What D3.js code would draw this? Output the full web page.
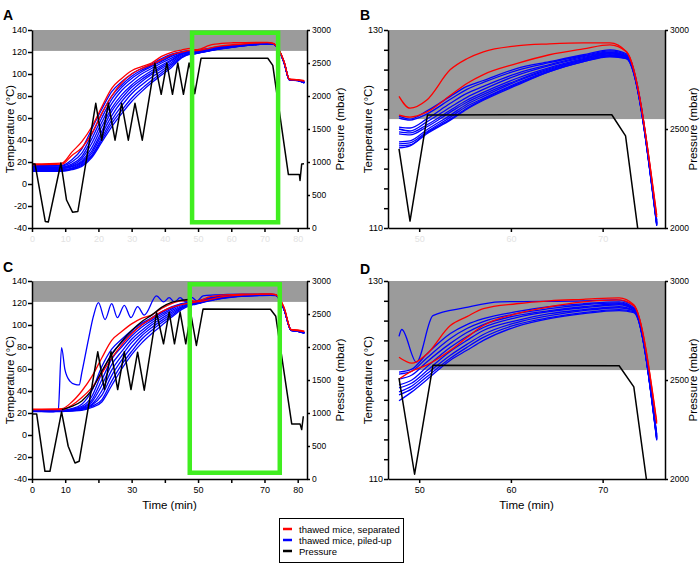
<!DOCTYPE html>
<html>
<head>
<meta charset="utf-8">
<style>
  body { margin: 0; background: #fff; }
  svg text { font-family: "Liberation Sans", Arial, Helvetica, sans-serif; }
</style>
</head>
<body>
<svg id="chart" width="700" height="564"></svg>

<script src="https://d3js.org/d3.v7.min.js"></script>
<script>
// sterilisation threshold (grey band)
var tempLimit = 121;

// ---- run 1 (panels A and B) ----
var times1 = [0, 9, 12, 15, 18, 21, 24, 27, 30, 33, 36, 39, 42, 45, 47.8, 49, 50.8, 53.4, 55.2, 57, 60.6, 64.2, 67.9, 70.8, 72.6, 75.9, 77.5, 80, 82];

var red1 = [
  [18.2, 19, 29, 38.5, 52, 70, 87, 96, 103, 106.7, 110, 116, 119.7, 121.8, 123.3, 122.1, 122.9, 126.0, 127.1, 127.8, 128.4, 128.6, 128.7, 128.7, 127.8, 111.3, 95, 94.5, 93.5],
  [17.5, 18, 26, 33, 46, 64, 80, 92, 100, 105, 108.5, 113, 117.5, 119.8, 121.4, 121.2, 121.7, 123.4, 124.6, 125.5, 126.6, 127.5, 128.1, 128.5, 127.8, 111.1, 95.5, 94.8, 94]
];

var blue1 = [
  [17, 17, 22, 32, 50, 68, 84, 93, 100, 105, 109, 114, 118, 120.3, 121.3, 121.0, 121.8, 123.3, 124.3, 124.9, 126.1, 126.8, 127.5, 128.0, 127.6, 110.8, 95.2, 94.6, 92.8],
  [16, 16.5, 20, 28, 45, 64, 80, 90, 98, 103.5, 108, 112.5, 117, 119.8, 121.1, 120.9, 121.5, 123.0, 124.0, 124.7, 125.9, 126.7, 127.4, 127.9, 127.5, 110.7, 95.0, 94.5, 92.5],
  [15.5, 15.5, 18, 25, 41, 60, 77, 88, 96, 102, 107, 111.5, 116, 119.2, 120.2, 120.1, 121.0, 122.6, 123.6, 124.3, 125.6, 126.5, 127.3, 127.8, 127.4, 110.6, 94.9, 94.4, 92.2],
  [15, 15, 17, 23, 37, 56, 73, 85, 93, 100, 105, 110, 114.5, 118.5, 120.0, 119.8, 120.7, 122.2, 123.2, 124.0, 125.4, 126.4, 127.2, 127.7, 127.4, 110.5, 94.8, 94.3, 92.0],
  [14, 14.5, 16, 21, 33, 52, 69, 81, 90, 97, 103, 108, 113, 118, 119.7, 119.6, 120.4, 121.9, 122.9, 123.7, 125.1, 126.2, 127.1, 127.7, 127.3, 110.5, 94.8, 94.3, 92.4],
  [13.5, 14, 15.5, 20, 30, 48, 66, 78, 88, 95, 101, 106.5, 112, 117.5, 119.5, 119.4, 120.2, 121.7, 122.7, 123.5, 124.9, 126.1, 127.0, 127.6, 127.3, 110.4, 94.7, 94.2, 92.6],
  [13, 13, 14.5, 19, 28, 45, 62, 75, 85, 93, 99.5, 105, 110.5, 116.5, 118.7, 118.8, 119.9, 121.4, 122.5, 123.3, 124.8, 126.0, 127.0, 127.5, 127.2, 110.4, 94.7, 94.2, 92.3],
  [12.5, 12.5, 14, 18, 26, 42, 58, 71, 82, 90, 97, 103, 109, 115.5, 118.5, 118.6, 119.7, 121.2, 122.3, 123.1, 124.6, 125.9, 126.9, 127.4, 127.2, 110.3, 94.6, 94.1, 92.1],
  [12, 12, 13.5, 17, 25, 40, 55, 67, 78, 86.5, 94, 101, 107.5, 115, 118.3, 118.4, 119.6, 121.0, 122.1, 123.0, 124.5, 125.8, 126.8, 127.4, 127.1, 110.3, 94.6, 94.1, 92.0],
  [11.5, 11.5, 13, 16, 24, 38, 52, 64, 75, 84, 92, 99, 106, 114.5, 118.1, 118.3, 119.5, 120.9, 122.0, 122.9, 124.4, 125.8, 126.8, 127.3, 127.1, 110.2, 94.5, 94.0, 91.8]
];

var pressure1 = [[0,970],[0.9,970],[4.0,100],[4.9,90],[8.7,985],[10.4,424],[12.2,240],[13.8,250],[19.2,1890],[21,1330],[23,1890],[25,1330],[27,1890],[29,1330],[31,1890],[33.2,1330],[37,2495],[38.9,2025],[40.6,2500],[42.3,2025],[43.9,2500],[45.6,2025],[47.3,2500],[47.8,2400],[49,2035],[50.9,2571],[71,2572],[72.5,2465],[77.2,810],[80.5,810],[80.7,720],[81.2,970],[81.9,975]];

// ---- run 2 (panels C and D) ----
var times2 = [0, 9, 12, 15, 18, 21, 24, 27, 30, 33, 36, 39, 42, 45, 47.8, 49.2, 50.8, 53.4, 55.2, 57, 60.6, 64.2, 67.9, 71.8, 73.4, 75.9, 78, 80, 82];

var red2 = [
  [23.5, 24, 30, 40, 53, 70, 86, 94, 101, 106, 109, 115, 119.5, 122, 122.3, 121.7, 122.6, 125.5, 126.4, 127.2, 127.7, 128.0, 128.15, 128.3, 127.6, 115.8, 96, 95.5, 94.5],
  [23, 23, 27, 34, 43, 56, 70, 82, 92, 100, 106, 112, 116, 118.5, 120.1, 120.9, 121.5, 123.0, 124.3, 125.5, 126.7, 127.4, 127.9, 128.1, 127.5, 115.6, 95.5, 95, 94]
];

var blue2 = [
  [22.5, 22.5, 24, 28, 40, 62, 78, 87, 95, 101.5, 106.5, 112, 116.5, 119.5, 120.8, 121.1, 122.6, 124.7, 125.6, 126.2, 126.9, 127.4, 127.7, 127.9, 127.3, 114.4, 95.6, 94.6, 93.2],
  [22.3, 22.3, 23.5, 26, 35, 56, 74, 84, 93, 100, 105.5, 111, 115.5, 119, 120.6, 120.9, 122.2, 124.2, 125.2, 125.9, 126.7, 127.2, 127.6, 127.8, 127.2, 114.3, 95.5, 94.5, 93.0],
  [22.2, 22.2, 23, 25, 32, 50, 69, 80, 90, 98, 104, 109.5, 114.5, 118.5, 120.1, 120.5, 121.8, 123.7, 124.8, 125.6, 126.5, 127.0, 127.4, 127.7, 127.2, 114.2, 95.4, 94.5, 92.8],
  [22, 22, 22.8, 24.5, 30, 45, 64, 76, 87, 95, 102, 108, 113, 117.5, 119.5, 120.0, 121.3, 123.3, 124.4, 125.3, 126.3, 126.9, 127.3, 127.6, 127.1, 114.2, 95.4, 94.4, 93.1],
  [21.8, 21.8, 22.5, 24, 28, 40, 59, 72, 84, 92.5, 100, 106, 111.5, 116.5, 119.2, 119.7, 120.9, 122.9, 124.0, 125.0, 126.0, 126.7, 127.1, 127.4, 127.0, 114.1, 95.3, 94.4, 92.9],
  [21.7, 21.7, 22.3, 23.5, 27, 36, 54, 68, 80, 90, 97.5, 104, 110, 115.5, 118.8, 119.4, 120.6, 122.5, 123.6, 124.6, 125.8, 126.5, 127.0, 127.3, 127.0, 114.0, 95.3, 94.3, 92.7],
  [21.5, 21.5, 22, 23, 26, 32, 49, 64, 76, 87, 95, 102, 108.5, 115, 118.5, 119.1, 120.3, 122.2, 123.3, 124.3, 125.6, 126.3, 126.8, 127.1, 126.9, 114.0, 95.2, 94.3, 92.5],
  [21.3, 21.3, 21.8, 22.5, 25, 30, 45, 60, 73, 83.5, 92, 99.5, 107, 114, 117.9, 118.8, 120.0, 122.0, 123.0, 124.0, 125.4, 126.2, 126.7, 127.0, 126.8, 113.9, 95.2, 94.2, 92.6]
];

// the one blue probe that followed the pressure pulses, as [time, temp]
var blueSpike2 = [[0,22.5],[6.4,21],[7.9,23],[8.9,79.4],[9.9,59.7],[11.4,49],[12.95,46],[14.2,45.5],[15,56.7],[17,87],[18.5,108],[20,120.3],[22,105],[24,119.4],[25.7,106.7],[27.8,117.9],[29.8,106.7],[31.8,116.7],[33.8,109],[37.5,126.4],[39.6,121],[41.3,124.8],[42.9,121],[44.6,124.8],[46.3,121.2],[47.8,124.4],[48.1,125.1],[49.7,121.8],[51.5,126.5],[55,127.3],[58.8,127.9],[67.9,128.0],[71.5,128.1],[73.4,127.5],[75.9,114.5],[78,95],[80,94.5],[82,93]];

// black probe trace in C, as [time, temp]
var black2 = [[9,23],[12,26],[15,31],[18,41],[21,58],[24,73],[27,85],[30,95],[33,103],[36,109],[39,116],[42,120.5],[45,122.5],[47,123.2]];

var pressure2 = [[0,986],[1.4,986],[3.9,116],[5.4,116],[8.9,1017],[10.9,496],[12.95,243],[14.2,268],[19.8,1927],[21.8,1356],[23.8,1927],[25.8,1356],[27.8,1927],[29.8,1356],[31.8,1922],[33.8,1346],[37.5,2519],[39.6,2049],[41.3,2529],[42.9,2049],[44.6,2529],[46.3,2049],[47.8,2510],[49.5,2024],[51.5,2574],[71.8,2572],[73.4,2465],[78.2,835],[80.7,835],[81.2,749],[81.7,951]];

// green box marking the zoomed window, [t0, t1, tempTop, tempBottom]
var box1 = [48.2, 74.1, 137.5, -34.8];
var box2 = [47.5, 74.6, 137, -34.3];

var legendLabels = ["thawed mice, separated", "thawed mice, piled-up", "Pressure"];
var legendColors = ["#ff0000", "#0000ff", "#000000"];

function zip(times, vals) {
  return vals.map(function (v, i) { return [times[i], v]; });
}

var run1 = {
  red: red1.map(function (v) { return zip(times1, v); }),
  blue: blue1.map(function (v) { return zip(times1, v); }),
  black: [],
  pressure: pressure1, box: box1
};
var run2 = {
  red: red2.map(function (v) { return zip(times2, v); }),
  blue: blue2.map(function (v) { return zip(times2, v); }).concat([blueSpike2]),
  black: [black2],
  pressure: pressure2, box: box2
};

var svg = d3.select("#chart");

function styleAxis(a, fontSize) {
  a.selectAll("path").attr("stroke", "#000").attr("stroke-width", 1.5);
  a.selectAll("line").attr("stroke", "#000").attr("stroke-width", 1.5);
  a.selectAll("text").attr("font-size", fontSize).attr("font-family", null);
}

function drawPanel(p) {
  var x = d3.scaleLinear().domain(p.tDomain).range([p.left, p.right]);
  var yT = d3.scaleLinear().domain(p.tempDomain).range([p.bottom, p.top]);
  var yP = d3.scaleLinear().domain(p.presDomain).range([p.bottom, p.top]);

  svg.append("clipPath").attr("id", "clip" + p.letter)
    .append("rect")
    .attr("x", p.left).attr("y", p.top)
    .attr("width", p.right - p.left).attr("height", p.bottom - p.top);

  var plot = svg.append("g").attr("clip-path", "url(#clip" + p.letter + ")");

  plot.append("rect")
    .attr("x", p.left).attr("width", p.right - p.left)
    .attr("y", yT(p.tempDomain[1]))
    .attr("height", yT(tempLimit) - yT(p.tempDomain[1]))
    .attr("fill", "#9b9b9b");

  var inWin = function (d) { return d[0] >= p.win[0] && d[0] <= p.win[1]; };
  var tLine = d3.line()
    .x(function (d) { return x(d[0]); })
    .y(function (d) { return yT(d[1]); })
    .curve(d3.curveMonotoneX);
  var pLine = d3.line()
    .x(function (d) { return x(d[0]); })
    .y(function (d) { return yP(d[1]); });

  function addTemps(list, color) {
    list.forEach(function (s) {
      var pts = s.filter(inWin);
      if (pts.length < 2) return;
      plot.append("path").datum(pts)
        .attr("fill", "none").attr("stroke", color)
        .attr("stroke-width", 1.3).attr("stroke-linejoin", "round")
        .attr("d", tLine);
    });
  }
  addTemps(p.run.blue, "#0000ff");
  addTemps(p.run.red, "#ff0000");
  addTemps(p.run.black, "#000");

  // pressure keeps going after the window and is clipped by the frame
  plot.append("path")
    .datum(p.run.pressure.filter(function (d) { return d[0] >= p.win[0]; }))
    .attr("fill", "none").attr("stroke", "#000")
    .attr("stroke-width", 1.5).attr("stroke-linejoin", "round")
    .attr("d", pLine);

  if (p.showBox) {
    var b = p.run.box;
    svg.append("rect")
      .attr("x", x(b[0])).attr("y", yT(b[2]))
      .attr("width", x(b[1]) - x(b[0])).attr("height", yT(b[3]) - yT(b[2]))
      .attr("fill", "none").attr("stroke", "#40ee20").attr("stroke-width", 4.5);
  }

  // axes
  var ax = svg.append("g").attr("transform", "translate(0," + p.bottom + ")")
    .call(d3.axisBottom(x).tickValues(p.xTicks).tickSize(4).tickSizeOuter(0).tickPadding(4)
      .tickFormat(function (d) { return p.xLabels.indexOf(d) >= 0 ? d : ""; }));
  styleAxis(ax, 9);
  if (p.fadeX) ax.selectAll("text").attr("fill", "#e2e2e2");

  var al = svg.append("g").attr("transform", "translate(" + p.left + ",0)")
    .call(d3.axisLeft(yT).tickValues(p.yTicks).tickSize(4).tickSizeOuter(0).tickPadding(1)
      .tickFormat(function (d) { return p.yLabels.indexOf(d) >= 0 ? d : ""; }));
  styleAxis(al, 9);

  var ar = svg.append("g").attr("transform", "translate(" + p.right + ",0)")
    .call(d3.axisRight(yP).tickValues(p.pTicks).tickSize(3).tickSizeOuter(0).tickPadding(2)
      .tickFormat(d3.format("d")));
  styleAxis(ar, 8.5);

  var midY = (p.top + p.bottom) / 2;
  svg.append("text")
    .attr("transform", "translate(" + p.tLabelX + "," + midY + ") rotate(-90)")
    .attr("text-anchor", "middle").attr("dy", "0.35em")
    .attr("font-size", 11.5).text("Temperature (°C)");
  svg.append("text")
    .attr("transform", "translate(" + p.pLabelX + "," + midY + ") rotate(-90)")
    .attr("text-anchor", "middle").attr("dy", "0.35em")
    .attr("font-size", 11.5).text("Pressure (mbar)");

  if (p.timeLabel) {
    svg.append("text")
      .attr("x", (p.left + p.right) / 2).attr("y", p.bottom + 30)
      .attr("text-anchor", "middle").attr("font-size", 11.5)
      .text("Time (min)");
  }

  svg.append("text")
    .attr("x", p.letterX).attr("y", p.letterY)
    .attr("font-size", 14).attr("font-weight", "bold")
    .text(p.letter);
}

var fullTicks = [0, 10, 20, 30, 40, 50, 60, 70, 80];
var fullTempTicks = [-40, -20, 0, 20, 40, 60, 80, 100, 120, 140];
var zoomTempTicks = [110, 112, 114, 116, 118, 120, 122, 124, 126, 128, 130];

drawPanel({
  letter: "A", letterX: 3, letterY: 20, run: run1,
  left: 32, right: 307, top: 30, bottom: 228,
  tDomain: [0, 82.8], tempDomain: [-40, 140], presDomain: [0, 3000],
  win: [0, 83], showBox: true,
  xTicks: fullTicks, xLabels: fullTicks, fadeX: true,
  yTicks: fullTempTicks, yLabels: fullTempTicks,
  pTicks: [0, 500, 1000, 1500, 2000, 2500, 3000],
  tLabelX: 10, pLabelX: 340, timeLabel: false
});

drawPanel({
  letter: "B", letterX: 360, letterY: 20, run: run1,
  left: 388, right: 665, top: 30, bottom: 228,
  tDomain: [46.6, 76.8], tempDomain: [110, 130], presDomain: [2000, 3000],
  win: [47.8, 75.9], showBox: false,
  xTicks: [50, 60, 70], xLabels: [50, 60, 70], fadeX: true,
  yTicks: zoomTempTicks, yLabels: [110, 130],
  pTicks: [2000, 2500, 3000],
  tLabelX: 368, pLabelX: 693, timeLabel: false
});

drawPanel({
  letter: "C", letterX: 3, letterY: 272, run: run2,
  left: 32, right: 307, top: 281, bottom: 479,
  tDomain: [0, 82.8], tempDomain: [-40, 140], presDomain: [0, 3000],
  win: [0, 83], showBox: true,
  xTicks: fullTicks, xLabels: [0, 10, 30, 50, 70, 80], fadeX: false,
  yTicks: fullTempTicks, yLabels: fullTempTicks,
  pTicks: [0, 500, 1000, 1500, 2000, 2500, 3000],
  tLabelX: 10, pLabelX: 340, timeLabel: true
});

drawPanel({
  letter: "D", letterX: 360, letterY: 274, run: run2,
  left: 388, right: 665, top: 281, bottom: 479,
  tDomain: [46.6, 76.8], tempDomain: [110, 130], presDomain: [2000, 3000],
  win: [47.8, 75.9], showBox: false,
  xTicks: [50, 60, 70], xLabels: [50, 60, 70], fadeX: false,
  yTicks: zoomTempTicks, yLabels: [110, 130],
  pTicks: [2000, 2500, 3000],
  tLabelX: 368, pLabelX: 693, timeLabel: true
});

// legend
var lg = svg.append("g");
lg.append("rect")
  .attr("x", 279.5).attr("y", 518.5).attr("width", 124).attr("height", 44)
  .attr("fill", "#fff").attr("stroke", "#000").attr("stroke-width", 1);
legendLabels.forEach(function (lab, i) {
  var yy = 529 + i * 11;
  lg.append("line")
    .attr("x1", 283).attr("x2", 292).attr("y1", yy).attr("y2", yy)
    .attr("stroke", legendColors[i]).attr("stroke-width", 2.5);
  lg.append("text")
    .attr("x", 299).attr("y", yy + 3.5)
    .attr("font-size", 9.5).text(lab);
});
</script>
</body>
</html>
